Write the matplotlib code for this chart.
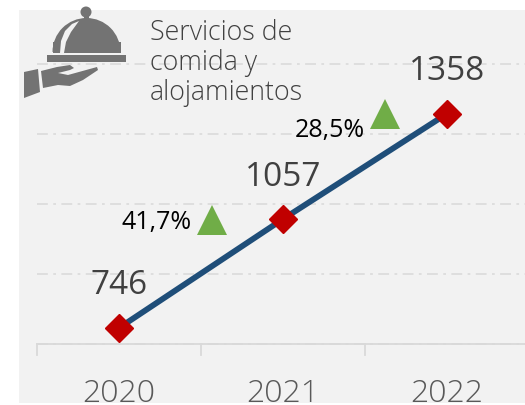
import matplotlib
matplotlib.use('Agg')
import matplotlib.pyplot as plt
from matplotlib.patches import Polygon, Rectangle, Circle, Wedge

years = ['2020', '2021', '2022']
values = [746, 1057, 1358]
growth = ['41,7%', '28,5%']
title_lines = 'Servicios de\ncomida y\nalojamientos'

W, H = 525, 405
fig = plt.figure(figsize=(W / 100, H / 100), dpi=100, facecolor='white')

# background panel, in pixel coords
bg = fig.add_axes([0, 0, 1, 1], zorder=0)
bg.set_xlim(0, W)
bg.set_ylim(H, 0)
bg.axis('off')
bg.add_patch(Rectangle((19, 10), 506, 393, color='#f2f2f2', lw=0))

# main chart: x axis runs 37..529 px, y 700 at 344 px and 1500 at 64 px
ax = fig.add_axes([37 / W, 1 - 344 / H, 492 / W, 280 / H], facecolor='none', zorder=1)
ax.set_xlim(-0.5, 2.5)
ax.set_ylim(700, 1500)
ax.set_yticks([700, 900, 1100, 1300, 1500])
ax.set_xticks([0, 1, 2])
ax.set_xticklabels(years)
ax.set_yticklabels([])
ax.grid(axis='y', color='#dcdcdc', lw=1.3, ls=(0, (6, 3, 1.5, 3)), clip_on=False)
ax.set_axisbelow(True)
for s in ['top', 'left', 'right']:
    ax.spines[s].set_visible(False)
ax.spines['bottom'].set_color('#d9d9d9')
ax.spines['bottom'].set_linewidth(1.3)
ax.yaxis.set_ticks_position('none')
ax.xaxis.set_ticks_position('none')
ax.tick_params(axis='x', pad=21, labelsize=23, labelcolor='#595959')
for lab in ax.get_xticklabels():
    lab.set_fontfamily('Open Sans')
    lab.set_fontweight('light')

for xt in [-0.5, 0.5, 1.5]:
    ax.plot([xt, xt], [700, 668], color='#d9d9d9', lw=1.3, clip_on=False)

ax.plot(range(3), values, color='#1f4e79', lw=4.2, marker='D', ms=14.5,
        mfc='#c00000', mec='#c00000', clip_on=False, solid_capstyle='butt')

for i, v in enumerate(values):
    ax.annotate(str(v), (i, v), xytext=(0, 42),
                textcoords='offset pixels', ha='center', va='center',
                fontsize=24, color='#404040', family='Open Sans')

# overlay for text and icon, above the gridlines
fg = fig.add_axes([0, 0, 1, 1], facecolor='none', zorder=2)
fg.set_xlim(0, W)
fg.set_ylim(H, 0)
fg.axis('off')

# growth labels and triangles
fg.text(192, 222, growth[0], ha='right', va='center', fontsize=18,
        color='black', family='Open Sans')
fg.text(365, 130, growth[1], ha='right', va='center', fontsize=18,
        color='black', family='Open Sans')
fg.add_patch(Polygon([(197, 235), (227, 235), (212, 205)], color='#70ad47', lw=0))
fg.add_patch(Polygon([(370, 129), (400, 129), (385, 99)], color='#70ad47', lw=0))

# title
fg.text(150, 63, title_lines, ha='left', va='center', fontsize=19.3,
        color='#404040', family='Open Sans', fontweight='light', linespacing=1.08)

# cloche and hand icon
grey = '#737373'
fg.add_patch(Wedge((86.5, 52), 34, 180, 360, color=grey, lw=0))
fg.add_patch(Rectangle((52.5, 42), 68, 11, color=grey, lw=0))
fg.add_patch(Circle((86, 12), 5.5, color=grey, lw=0))
fg.add_patch(Rectangle((84, 14), 5, 6, color=grey, lw=0))
fg.add_patch(Rectangle((47, 55), 79, 7, color=grey, lw=0))
fg.add_patch(Polygon([(60, 53), (64, 53), (66, 42), (71, 32), (79, 21),
                      (72, 24), (65, 31), (61, 41)], color='#f2f2f2', lw=0))
fg.add_patch(Polygon([(24, 72), (38, 69), (40, 92), (24, 98)], color=grey, lw=0))
fg.add_patch(Polygon([(41, 71), (57, 67), (70, 65), (74, 68), (70, 70), (58, 73),
                      (68, 75), (97, 67), (98, 70), (83, 80), (70, 86),
                      (58, 85), (43, 88)], color=grey, lw=0))

fig.savefig('out.png', dpi=100, facecolor='white')
